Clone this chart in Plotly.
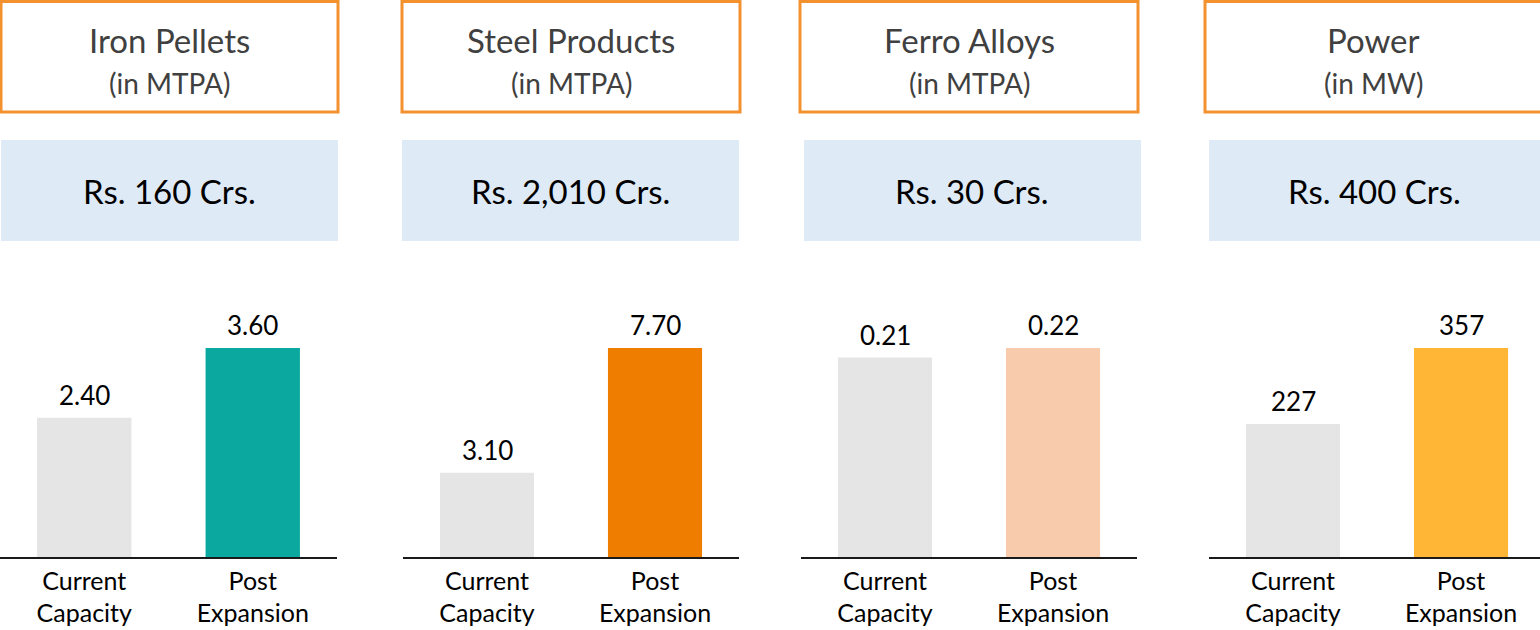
import plotly.graph_objects as go

# ---- data ----
titles = ["Iron Pellets", "Steel Products", "Ferro Alloys", "Power"]
units = ["(in MTPA)", "(in MTPA)", "(in MTPA)", "(in MW)"]
investments = ["Rs. 160 Crs.", "Rs. 2,010 Crs.", "Rs. 30 Crs.", "Rs. 400 Crs."]
categories = ["Current", "Post"]
tick_labels = ["Current<br>Capacity", "Post<br>Expansion"]
current_capacity = [2.40, 3.10, 0.21, 227]
post_expansion = [3.60, 7.70, 0.22, 357]
value_labels_current = ["2.40", "3.10", "0.21", "227"]
value_labels_post = ["3.60", "7.70", "0.22", "357"]
post_colors = ["#0AA89E", "#EF7D00", "#F7CBAC", "#FFB535"]
current_color = "#E5E5E5"

W, H = 1540, 630
FONT = "Lato"

def px_x(p):
    return p / W

def px_y(p):
    return 1 - p / H

# panel layout in pixels (x domain of axis)
axis_px = [(0, 337), (403, 739), (801, 1137), (1209, 1540)]
x_ranges = [[-0.5, 1.5], [-0.5, 1.5], [-0.5, 1.5], [-0.5, 1.47]]
orange_px = [(1, 338), (402, 740), (800, 1138), (1205, 1542)]
blue_px = [(1, 338), (402, 739), (804, 1141), (1209, 1540)]

fig = go.Figure()
shapes = []
annotations = []

for i in range(4):
    ax = "" if i == 0 else str(i + 1)
    xref = "x" + ax
    yref = "y" + ax
    fig.add_trace(go.Bar(
        x=categories,
        y=[current_capacity[i], post_expansion[i]],
        marker=dict(color=[current_color, post_colors[i]], line=dict(width=0)),
        width=0.56,
        xaxis=xref, yaxis=yref,
        showlegend=False, hoverinfo="skip",
    ))
    for cat, val, lab in [(categories[0], current_capacity[i], value_labels_current[i]),
                          (categories[1], post_expansion[i], value_labels_post[i])]:
        annotations.append(dict(
            x=cat, y=val, xref=xref, yref=yref, text=lab, showarrow=False,
            xanchor="center", yanchor="bottom", yshift=5,
            font=dict(family=FONT, size=26, color="#000000"),
        ))
    x0, x1 = axis_px[i]
    fig.update_layout(**{
        "xaxis" + ax: dict(
            domain=[px_x(x0), px_x(x1)], range=x_ranges[i], type="category",
            showline=True, linecolor="#1a1a1a", linewidth=1.6,
            showgrid=False, zeroline=False, ticks="",
            tickmode="array", tickvals=categories, ticktext=tick_labels,
            tickfont=dict(family=FONT, size=25, color="#000000"),
            ticklabelstandoff=1, automargin=False,
            anchor=yref, fixedrange=True,
        ),
        "yaxis" + ax: dict(
            domain=[px_y(557), px_y(348)], range=[0, max(current_capacity[i], post_expansion[i])],
            visible=False, showgrid=False, zeroline=False, anchor=xref, fixedrange=True,
            automargin=False,
        ),
    })
    # orange header box
    ox0, ox1 = orange_px[i]
    shapes.append(dict(type="rect", xref="paper", yref="paper",
                       x0=px_x(ox0), x1=px_x(ox1), y0=px_y(112), y1=px_y(1.5),
                       line=dict(color="#F4912F", width=3), fillcolor="rgba(0,0,0,0)"))
    # blue investment box
    bx0, bx1 = blue_px[i]
    shapes.append(dict(type="rect", xref="paper", yref="paper",
                       x0=px_x(bx0), x1=px_x(bx1), y0=px_y(241), y1=px_y(140),
                       line=dict(width=0), fillcolor="#DEEAF6", layer="below"))
    cx_o = px_x((ox0 + ox1) / 2)
    cx_b = px_x((bx0 + bx1) / 2)
    annotations.append(dict(x=cx_o, y=px_y(40), xref="paper", yref="paper",
                            text=titles[i], showarrow=False, xanchor="center", yanchor="middle",
                            font=dict(family=FONT, size=33, color="#404040")))
    annotations.append(dict(x=cx_o, y=px_y(83), xref="paper", yref="paper",
                            text=units[i], showarrow=False, xanchor="center", yanchor="middle",
                            font=dict(family=FONT, size=28, color="#404040")))
    annotations.append(dict(x=cx_b, y=px_y(191), xref="paper", yref="paper",
                            text=investments[i], showarrow=False, xanchor="center", yanchor="middle",
                            font=dict(family=FONT, size=33, color="#000000")))

fig.update_layout(
    width=W, height=H,
    margin=dict(l=0, r=0, t=0, b=0, autoexpand=False),
    paper_bgcolor="white", plot_bgcolor="white",
    shapes=shapes, annotations=annotations,
    font=dict(family=FONT),
)

fig.write_html("out.html", config={"displayModeBar": False},
               post_script="document.body.style.margin='0';")
